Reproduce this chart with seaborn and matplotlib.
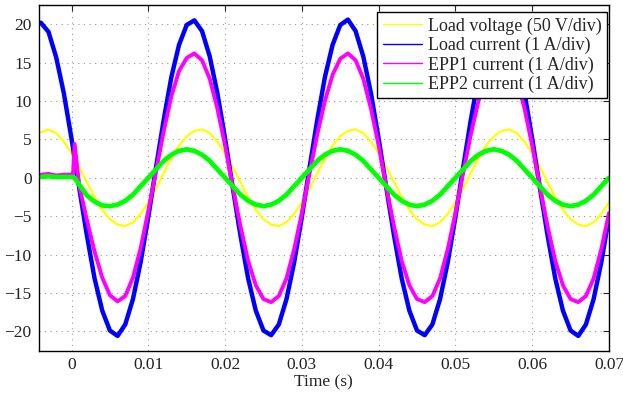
"""Load voltage / current and EPP currents, scope capture style."""

import matplotlib
matplotlib.use("Agg")
import matplotlib.pyplot as plt
from matplotlib.lines import Line2D
import pandas as pd
import seaborn as sns

# Sampling grid in milliseconds (one sample per ms)
time_ms = list(range(-4, 71))

# Load voltage, scaled 50 V/div
load_voltage = [
    5.9, 6.3, 5.8, 4.7, 3.2, 1.4, -0.6, -2.5, -4.2, -5.4,
    -6.1, -6.3, -5.8, -4.7, -3.2, -1.4, 0.6, 2.5, 4.2, 5.4,
    6.1, 6.3, 5.8, 4.7, 3.2, 1.4, -0.6, -2.5, -4.2, -5.4,
    -6.1, -6.3, -5.8, -4.7, -3.2, -1.4, 0.6, 2.5, 4.2, 5.4,
    6.1, 6.3, 5.8, 4.7, 3.2, 1.4, -0.6, -2.5, -4.2, -5.4,
    -6.1, -6.3, -5.8, -4.7, -3.2, -1.4, 0.6, 2.5, 4.2, 5.4,
    6.1, 6.3, 5.8, 4.7, 3.2, 1.4, -0.6, -2.5, -4.2, -5.4,
    -6.1, -6.3, -5.8, -4.7, -3.2,
]

# Load current, 1 A/div
load_current = [
    20.2, 19.0, 15.7, 11.0, 5.1, -1.3, -7.5, -13.1, -17.3, -19.9,
    -20.6, -19.1, -15.8, -11.0, -5.1, 1.3, 7.5, 13.1, 17.3, 19.9,
    20.5, 19.1, 15.8, 11.0, 5.1, -1.3, -7.5, -13.1, -17.3, -19.9,
    -20.5, -19.1, -15.8, -11.0, -5.1, 1.3, 7.5, 13.1, 17.3, 19.9,
    20.6, 19.1, 15.8, 11.0, 5.1, -1.3, -7.5, -13.1, -17.3, -19.9,
    -20.5, -19.1, -15.8, -11.0, -5.1, 1.3, 7.5, 13.1, 17.3, 19.9,
    20.5, 19.1, 15.8, 11.0, 5.1, -1.3, -7.5, -13.1, -17.3, -19.9,
    -20.6, -19.1, -15.8, -11.0, -5.1,
]

# EPP1 current, 1 A/div (idle before switch-on at t = 0)
epp1_current = [
    0.4, 0.5, 0.3, 0.4, 0.4, -1.0, -5.5, -9.6, -13.0, -15.3,
    -16.1, -15.4, -13.0, -9.2, -4.3, 0.8, 6.0, 10.6, 13.9, 15.6,
    16.2, 15.3, 12.9, 9.0, 4.2, -1.2, -6.3, -10.8, -14.0, -15.8,
    -16.2, -15.4, -13.1, -9.3, -4.6, 0.6, 5.6, 10.0, 13.4, 15.5,
    16.2, 15.3, 12.9, 9.0, 4.2, -1.2, -6.3, -10.8, -14.0, -15.8,
    -16.2, -15.4, -13.1, -9.3, -4.6, 0.6, 5.6, 10.0, 13.4, 15.5,
    16.2, 15.3, 12.9, 9.0, 4.2, -1.2, -6.3, -10.8, -14.0, -15.8,
    -16.2, -15.4, -13.1, -9.3, -4.6,
]

# EPP2 current, 1 A/div
epp2_current = [
    0.1, 0.2, 0.1, 0.1, 0.1, -0.9, -2.3, -3.1, -3.6, -3.7,
    -3.5, -3.0, -2.2, -1.1, 0.0, 1.1, 2.2, 3.0, 3.5, 3.7,
    3.5, 3.0, 2.2, 1.1, 0.0, -1.1, -2.2, -3.0, -3.5, -3.7,
    -3.5, -3.0, -2.2, -1.1, 0.0, 1.1, 2.2, 3.0, 3.5, 3.7,
    3.5, 3.0, 2.2, 1.1, 0.0, -1.1, -2.2, -3.0, -3.5, -3.7,
    -3.5, -3.0, -2.2, -1.1, 0.0, 1.1, 2.2, 3.0, 3.5, 3.7,
    3.5, 3.0, 2.2, 1.1, 0.0, -1.1, -2.2, -3.0, -3.5, -3.7,
    -3.5, -3.0, -2.2, -1.1, 0.0,
]

# Extra samples at the switch-on transient
switch_ms = [0.2, 0.4]
epp1_switch = [0.5, 4.4]
epp2_switch = [0.1, 0.0]

labels = [
    "Load voltage (50 V/div)",
    "Load current (1 A/div)",
    "EPP1 current (1 A/div)",
    "EPP2 current (1 A/div)",
]
colors = ["#ffff00", "#0000ff", "#ff00ff", "#00ff00"]
widths = [1.6, 3.2, 2.8, 3.4]
x_ticks = [0, 0.01, 0.02, 0.03, 0.04, 0.05, 0.06, 0.07]
x_tick_labels = ["0", "0.01", "0.02", "0.03", "0.04", "0.05", "0.06", "0.07"]
y_ticks = [-20, -15, -10, -5, 0, 5, 10, 15, 20]


def build_frame() -> pd.DataFrame:
    """Long table of all traces, time in seconds."""
    parts = []
    series = [load_voltage, load_current, epp1_current, epp2_current]
    extra = [None, None, epp1_switch, epp2_switch]
    for label, values, ext in zip(labels, series, extra):
        df = pd.DataFrame({"t_ms": time_ms, "value": values})
        if ext is not None:
            df = pd.concat([df, pd.DataFrame({"t_ms": switch_ms, "value": ext})])
        df = df.sort_values("t_ms")
        df["time"] = df["t_ms"] / 1000.0
        df["series"] = label
        parts.append(df)
    return pd.concat(parts, ignore_index=True)


sns.set_style("white")
plt.rcParams["font.family"] = ["Liberation Serif", "DejaVu Serif"]
plt.rcParams["axes.unicode_minus"] = True

data = build_frame()

fig = plt.figure(figsize=(6.23, 3.97), dpi=100)
ax = fig.add_axes([0.0618, 0.1171, 0.9157, 0.8703])

for label, color, lw in zip(labels, colors, widths):
    sns.lineplot(
        data=data[data["series"] == label], x="time", y="value",
        color=color, linewidth=lw, estimator=None, sort=False,
        legend=False, ax=ax,
    )

ax.set_xlim(-0.0043, 0.07)
ax.set_ylim(-22.5, 22.5)
ax.set_xticks(x_ticks)
ax.set_xticklabels(x_tick_labels)
ax.set_yticks(y_ticks)
ax.set_xlabel("Time (s)", fontsize=12.5, color="#222222", labelpad=1)
ax.set_ylabel("")

ax.grid(True, color="#9a9a9a", linestyle=(0, (1, 4)), linewidth=0.8)
ax.tick_params(direction="in", length=4, width=0.8, top=True, right=True,
               labelsize=12.5, labelcolor="#222222", pad=5)
for spine in ax.spines.values():
    spine.set_color("black")
    spine.set_linewidth(1.0)

handles = [Line2D([], [], color=c, linewidth=1.0) for c in colors]
leg = ax.legend(
    handles, labels, loc="upper right", bbox_to_anchor=(0.9965, 0.98),
    borderaxespad=0, fontsize=13, frameon=True, fancybox=False,
    framealpha=1, edgecolor="black", handlelength=2.2, handletextpad=0.3,
    labelspacing=0.12, borderpad=0.3,
)
leg.get_frame().set_linewidth(1.0)

fig.savefig("out.png", dpi=100)
plt.close(fig)
